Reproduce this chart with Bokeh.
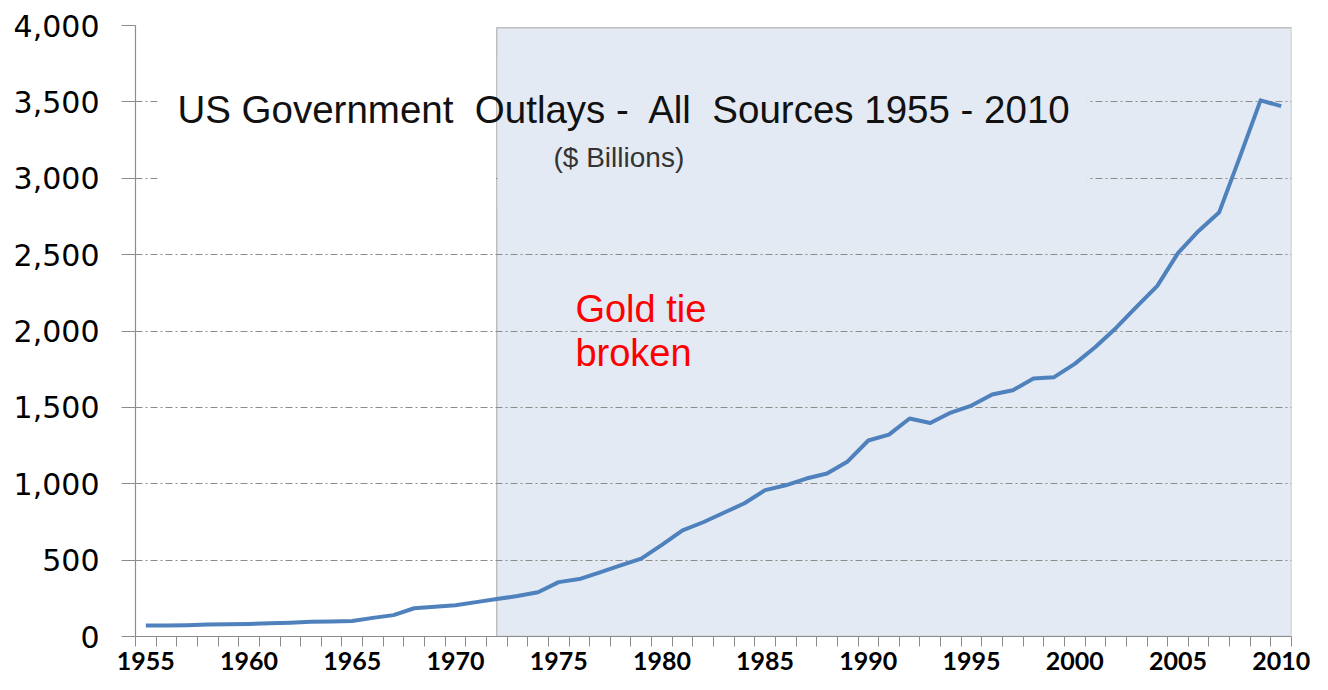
from bokeh.plotting import figure
from bokeh.models import FixedTicker, NumeralTickFormatter, Range1d
from bokeh.core.properties import value
from bokeh.embed import file_html
from bokeh.resources import INLINE

# ---- data ($ billions) ----
years = list(range(1955, 2011))
outlays = [72, 72, 74, 78, 80, 82, 86, 90, 96, 99,
           102, 122, 140, 185, 195, 205, 225, 245, 265, 290,
           356, 376, 420, 466, 510, 600, 695, 748, 810, 872,
           958, 990, 1034, 1067, 1146, 1283, 1322, 1427, 1398, 1466,
           1512, 1584, 1612, 1689, 1698, 1785, 1895, 2020, 2160, 2295,
           2510, 2655, 2778, 3140, 3510, 3472]
label_years = [1955, 1960, 1965, 1970, 1975, 1980, 1985, 1990, 1995, 2000, 2005, 2010]
y_ticks = [0, 500, 1000, 1500, 2000, 2500, 3000, 3500, 4000]
shade_start = 1972
shade_top = 3985

title_text = "US Government\u00a0 Outlays -\u00a0 All\u00a0 Sources 1955 - 2010"
subtitle_text = "($ Billions)"
note_lines = ["Gold tie", "broken"]

SHADE = "#E3EAF4"
GRID = "#8C8C8C"
AXIS = "#8C8C8C"

p = figure(width=1312, height=674,
           x_range=Range1d(1954.5, 2010.5), y_range=Range1d(0, 4000),
           output_backend="svg", toolbar_location=None,
           min_border_left=135, min_border_right=21,
           min_border_top=25, min_border_bottom=38)
p.outline_line_color = None
p.background_fill_color = "white"
p.border_fill_color = "white"

# shaded "gold tie broken" era
p.quad(left=[shade_start], right=[2010.5], bottom=[0], top=[shade_top],
       fill_color=SHADE, line_color="#BFBFBF", line_width=1.5, level="image")

# grid
p.xgrid.visible = False
p.ygrid.ticker = FixedTicker(ticks=y_ticks[1:])
p.ygrid.grid_line_color = GRID
p.ygrid.grid_line_dash = "7 3 2 3"
p.ygrid.grid_line_width = 1

# title box masks (hide gridlines behind the title)
p.quad(left=[1955.57], right=[shade_start - 0.04], bottom=[2800], top=[3800],
       fill_color="white", line_color=None)
p.quad(left=[shade_start + 0.04], right=[2000.62], bottom=[2800], top=[3800],
       fill_color=SHADE, line_color=None)

# texts
p.text(x=[1956.53], y=[3447], text=[title_text],
       text_font=value("Liberation Sans"), text_font_size="38.5px",
       text_color="#111111", text_align="left", text_baseline="alphabetic")
p.text(x=[1974.75], y=[3133], text=[subtitle_text],
       text_font=value("Liberation Sans"), text_font_size="28px",
       text_color="#333333", text_align="left", text_baseline="alphabetic")
p.text(x=[1975.81, 1975.81], y=[2141, 1853], text=note_lines,
       text_font=value("Liberation Sans"), text_font_size="38px",
       text_color="#FF0000", text_align="left", text_baseline="alphabetic")

# series
p.line(years, outlays, line_color="#4F81BD", line_width=4, line_join="round")

# x axis
xa = p.xaxis[0]
xa.ticker = FixedTicker(ticks=label_years,
                        minor_ticks=[1954.5 + i for i in range(57)])
xa.major_tick_out = 0
xa.major_tick_in = 0
xa.minor_tick_out = 10
xa.minor_tick_in = 0
xa.minor_tick_line_color = AXIS
xa.axis_line_color = AXIS
xa.axis_line_width = 1.2
xa.major_label_text_font = "Lato"
xa.major_label_text_font_style = "bold"
xa.major_label_text_font_size = "25px"
xa.major_label_text_color = "black"
xa.major_label_standoff = 5

# y axis
ya = p.yaxis[0]
ya.ticker = FixedTicker(ticks=y_ticks)
ya.formatter = NumeralTickFormatter(format="0,0")
ya.major_tick_out = 14
ya.major_tick_in = 0
ya.minor_tick_out = 0
ya.minor_tick_in = 0
ya.major_tick_line_color = AXIS
ya.axis_line_color = AXIS
ya.axis_line_width = 1.2
ya.major_label_text_font = "DejaVu Sans"
ya.major_label_text_font_size = "30px"
ya.major_label_text_color = "black"
ya.major_label_standoff = 22

open("out.html", "w").write(file_html(p, INLINE))
